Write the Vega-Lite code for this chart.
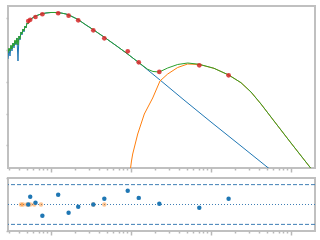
{
  "$schema": "https://vega.github.io/schema/vega-lite/v6.json",
  "padding": {"left": 3, "top": 5, "right": 5, "bottom": 5},
  "background": "white",
  "config": {
    "view": {"stroke": "#c0c0c0", "strokeWidth": 2},
    "axis": {"domain": false, "labels": false, "grid": false, "tickColor": "#b8b8b8", "tickWidth": 1.5, "minExtent": 4, "maxExtent": 4}
  },
  "spacing": 2,
  "datasets": {
    "model": [
      {"s": "b", "w": 0.2901, "f": 0.05224}, {"s": "b", "w": 0.2985, "f": 0.1079}, {"s": "b", "w": 0.3073, "f": 0.06495}, {"s": "b", "w": 0.3162, "f": 0.1342}, {"s": "b", "w": 0.3255, "f": 0.09335}, {"s": "b", "w": 0.335, "f": 0.1667}, {"s": "b", "w": 0.3448, "f": 0.116}, {"s": "b", "w": 0.3548, "f": 0.1928}, {"s": "b", "w": 0.3652, "f": 0.1443}, {"s": "b", "w": 0.3758, "f": 0.2397}, {"s": "b", "w": 0.3868, "f": 0.0452}, {"s": "b", "w": 0.3981, "f": 0.277}, {"s": "b", "w": 0.4097, "f": 0.2073}, {"s": "b", "w": 0.4217, "f": 0.3703}, {"s": "b", "w": 0.434, "f": 0.2979}, {"s": "b", "w": 0.4467, "f": 0.4603}, {"s": "b", "w": 0.4597, "f": 0.3703}, {"s": "b", "w": 0.4732, "f": 0.5721}, {"s": "b", "w": 0.487, "f": 0.495}, {"s": "b", "w": 0.5012, "f": 0.7112}, {"s": "b", "w": 0.5158, "f": 0.6614}, {"s": "b", "w": 0.5309, "f": 0.8222}, {"s": "b", "w": 0.5623, "f": 0.9506}, {"s": "b", "w": 0.6131, "f": 1.0989}, {"s": "b", "w": 0.6683, "f": 1.2253}, {"s": "b", "w": 0.7499, "f": 1.3657}, {"s": "b", "w": 0.866, "f": 1.4689}, {"s": "b", "w": 1.0, "f": 1.5232}, {"s": "b", "w": 1.1548, "f": 1.5232}, {"s": "b", "w": 1.3335, "f": 1.4689}, {"s": "b", "w": 1.5399, "f": 1.3657}, {"s": "b", "w": 1.7783, "f": 1.1815}, {"s": "b", "w": 2.1752, "f": 0.9167}, {"s": "b", "w": 2.7384, "f": 0.6152}, {"s": "b", "w": 3.3497, "f": 0.4438}, {"s": "b", "w": 4.5973, "f": 0.2576}, {"s": "b", "w": 6.4938, "f": 0.1391}, {"s": "b", "w": 8.9125, "f": 0.07785}, {"s": "b", "w": 12.232, "f": 0.04204}, {"s": "b", "w": 16.788, "f": 0.02189}, {"s": "b", "w": 23.041, "f": 0.01139}, {"s": "b", "w": 45.973, "f": 0.002672}, {"s": "b", "w": 100, "f": 0.0005418}, {"s": "b", "w": 237.14, "f": 0.00009506}, {"s": "b", "w": 530.88, "f": 0.00001859},
      {"s": "o", "w": 9.857, "f": 0.00001859}, {"s": "o", "w": 10.145, "f": 0.000032027}, {"s": "o", "w": 10.501, "f": 0.00005321}, {"s": "o", "w": 12.13, "f": 0.00022696}, {"s": "o", "w": 14.667, "f": 0.0009678}, {"s": "o", "w": 18.67, "f": 0.0030896}, {"s": "o", "w": 23.041, "f": 0.010598}, {"s": "o", "w": 28.75, "f": 0.017607}, {"s": "o", "w": 38.35, "f": 0.028213}, {"s": "o", "w": 51.14, "f": 0.036356}, {"s": "o", "w": 71.41, "f": 0.03507}, {"s": "o", "w": 109.0, "f": 0.026623}, {"s": "o", "w": 166.4, "f": 0.016374}, {"s": "o", "w": 237.14, "f": 0.009369}, {"s": "o", "w": 316.23, "f": 0.004771}, {"s": "o", "w": 421.7, "f": 0.0019985}, {"s": "o", "w": 613.1, "f": 0.0005827}, {"s": "o", "w": 1000, "f": 0.00011815}, {"s": "o", "w": 1778.3, "f": 0.00001859},
      {"s": "g", "w": 0.2901, "f": 0.08074}, {"s": "g", "w": 0.2985, "f": 0.116}, {"s": "g", "w": 0.3073, "f": 0.09335}, {"s": "g", "w": 0.3162, "f": 0.1443}, {"s": "g", "w": 0.3255, "f": 0.1079}, {"s": "g", "w": 0.335, "f": 0.1667}, {"s": "g", "w": 0.3448, "f": 0.1342}, {"s": "g", "w": 0.3548, "f": 0.2073}, {"s": "g", "w": 0.3652, "f": 0.1551}, {"s": "g", "w": 0.3758, "f": 0.2397}, {"s": "g", "w": 0.3868, "f": 0.1443}, {"s": "g", "w": 0.3981, "f": 0.277}, {"s": "g", "w": 0.4097, "f": 0.2228}, {"s": "g", "w": 0.4217, "f": 0.3703}, {"s": "g", "w": 0.434, "f": 0.3203}, {"s": "g", "w": 0.4467, "f": 0.4603}, {"s": "g", "w": 0.4597, "f": 0.3981}, {"s": "g", "w": 0.4732, "f": 0.5721}, {"s": "g", "w": 0.487, "f": 0.495}, {"s": "g", "w": 0.5012, "f": 0.7112}, {"s": "g", "w": 0.5158, "f": 0.6614}, {"s": "g", "w": 0.5309, "f": 0.8222}, {"s": "g", "w": 0.5623, "f": 0.9506}, {"s": "g", "w": 0.6131, "f": 1.0989}, {"s": "g", "w": 0.6683, "f": 1.2253}, {"s": "g", "w": 0.7499, "f": 1.3657}, {"s": "g", "w": 0.866, "f": 1.4689}, {"s": "g", "w": 1.0, "f": 1.5232}, {"s": "g", "w": 1.1548, "f": 1.5232}, {"s": "g", "w": 1.3335, "f": 1.4689}, {"s": "g", "w": 1.5399, "f": 1.3657}, {"s": "g", "w": 1.7783, "f": 1.1815}, {"s": "g", "w": 2.1752, "f": 0.9167}, {"s": "g", "w": 2.7384, "f": 0.6152}, {"s": "g", "w": 3.3497, "f": 0.4438}, {"s": "g", "w": 4.5973, "f": 0.2576}, {"s": "g", "w": 6.4938, "f": 0.1391}, {"s": "g", "w": 8.9125, "f": 0.07785}, {"s": "g", "w": 12.232, "f": 0.04204}, {"s": "g", "w": 16.17, "f": 0.02476}, {"s": "g", "w": 18.836, "f": 0.02111}, {"s": "g", "w": 22.58, "f": 0.02036}, {"s": "g", "w": 28.75, "f": 0.02721}, {"s": "g", "w": 38.35, "f": 0.03507}, {"s": "g", "w": 51.14, "f": 0.03908}, {"s": "g", "w": 71.41, "f": 0.03558}, {"s": "g", "w": 109.0, "f": 0.026623}, {"s": "g", "w": 166.4, "f": 0.016374}, {"s": "g", "w": 237.14, "f": 0.009369}, {"s": "g", "w": 316.23, "f": 0.004771}, {"s": "g", "w": 421.7, "f": 0.0019985}, {"s": "g", "w": 613.1, "f": 0.0005827}, {"s": "g", "w": 1000, "f": 0.00011815}, {"s": "g", "w": 1778.3, "f": 0.00001859}
    ],
    "phot": [
      {"w": 0.52, "f": 0.82, "r": 0}, {"w": 0.55, "f": 0.9, "r": 0.58}, {"w": 0.64, "f": 1.1, "r": 0.13}, {"w": 0.78, "f": 1.34, "r": -0.85}, {"w": 1.23, "f": 1.44, "r": 0.73}, {"w": 1.66, "f": 1.21, "r": -0.62}, {"w": 2.19, "f": 0.865, "r": -0.17}, {"w": 3.38, "f": 0.419, "r": 0}, {"w": 4.64, "f": 0.234, "r": 0.43}, {"w": 9.1, "f": 0.0914, "r": 1.03}, {"w": 12.5, "f": 0.0411, "r": 0.5}, {"w": 22.6, "f": 0.0204, "r": 0.05}, {"w": 71.4, "f": 0.0331, "r": -0.25}, {"w": 166, "f": 0.016, "r": 0.43}
    ],
    "lim": [
      {"w": 0.4217, "r": 0}, {"w": 0.4467, "r": 0}, {"w": 0.5012, "r": 0}, {"w": 0.551, "r": 0}, {"w": 0.6184, "r": 0}, {"w": 0.7499, "r": 0}, {"w": 3.38, "r": 0}, {"w": 4.64, "r": 0}
    ],
    "refs": [
      {"v": 1.5, "k": "d"}, {"v": -1.5, "k": "d"}
    ]
  },
  "vconcat": [
    {
      "width": 307,
      "height": 162,
      "layer": [
        {
          "data": {"name": "model"},
          "mark": {"type": "line", "strokeWidth": 1, "clip": true},
          "encoding": {
            "x": {"field": "w", "type": "quantitative", "title": null, "scale": {"type": "log", "domain": [0.2901, 1995.3], "nice": false}, "axis": {"values": [1, 10, 100, 1000], "tickSize": 4}},
            "y": {"field": "f", "type": "quantitative", "title": null, "scale": {"type": "log", "domain": [0.00001928, 2.44], "nice": false}, "axis": {"values": [0.0001, 0.001, 0.01, 0.1, 1], "tickSize": 2}},
            "color": {"field": "s", "type": "nominal", "legend": null, "scale": {"domain": ["b", "o", "g"], "range": ["#1f77b4", "#ff7f0e", "#2ca02c"]}},
            "order": {"field": "w", "type": "quantitative"}
          }
        },
        {
          "data": {"name": "phot"},
          "mark": {"type": "circle", "color": "#d62728", "size": 22, "opacity": 0.85, "clip": true},
          "encoding": {
            "x": {"field": "w", "type": "quantitative", "title": null, "scale": {"type": "log", "domain": [0.2901, 1995.3], "nice": false}, "axis": {"orient": "bottom", "values": [0.3, 0.4, 0.5, 0.6, 0.7, 0.8, 0.9, 2, 3, 4, 5, 6, 7, 8, 9, 20, 30, 40, 50, 60, 70, 80, 90, 200, 300, 400, 500, 600, 700, 800, 900], "tickSize": 2}},
            "y": {"field": "f", "type": "quantitative", "title": null, "scale": {"type": "log", "domain": [0.00001928, 2.44], "nice": false}, "axis": {"values": [0.0001, 0.001, 0.01, 0.1, 1], "tickSize": 2}}
          }
        }
      ],
      "resolve": {"axis": {"x": "independent"}}
    },
    {
      "width": 307,
      "height": 53,
      "layer": [
        {
          "data": {"name": "refs"},
          "mark": {"type": "rule", "color": "#3f7fb5", "strokeWidth": 1, "strokeDash": [4, 2]},
          "encoding": {
            "y": {"field": "v", "type": "quantitative", "title": null, "scale": {"domain": [-2, 2], "nice": false}, "axis": {"values": [-2, -1, 0, 1, 2], "tickSize": 2}}
          }
        },
        {
          "data": {"name": "refs"},
          "mark": {"type": "rule", "color": "#3f7fb5", "strokeWidth": 1, "strokeDash": [1, 2]},
          "encoding": {
            "y": {"datum": 0}
          }
        },
        {
          "data": {"name": "lim"},
          "mark": {"type": "circle", "color": "#ff7f0e", "size": 20, "opacity": 0.45},
          "encoding": {
            "x": {"field": "w", "type": "quantitative", "title": null, "scale": {"type": "log", "domain": [0.2901, 1995.3], "nice": false}, "axis": {"orient": "bottom", "values": [0.3, 0.4, 0.5, 0.6, 0.7, 0.8, 0.9, 2, 3, 4, 5, 6, 7, 8, 9, 20, 30, 40, 50, 60, 70, 80, 90, 200, 300, 400, 500, 600, 700, 800, 900], "tickSize": 2}},
            "y": {"field": "r", "type": "quantitative", "title": null, "scale": {"domain": [-2, 2], "nice": false}}
          }
        },
        {
          "data": {"name": "phot"},
          "mark": {"type": "circle", "color": "#1f77b4", "size": 20, "opacity": 1},
          "encoding": {
            "x": {"field": "w", "type": "quantitative", "title": null, "scale": {"type": "log", "domain": [0.2901, 1995.3], "nice": false}, "axis": {"orient": "bottom", "values": [1, 10, 100, 1000], "tickSize": 4}},
            "y": {"field": "r", "type": "quantitative", "title": null, "scale": {"domain": [-2, 2], "nice": false}}
          }
        }
      ],
      "resolve": {"axis": {"x": "independent"}}
    }
  ]
}
